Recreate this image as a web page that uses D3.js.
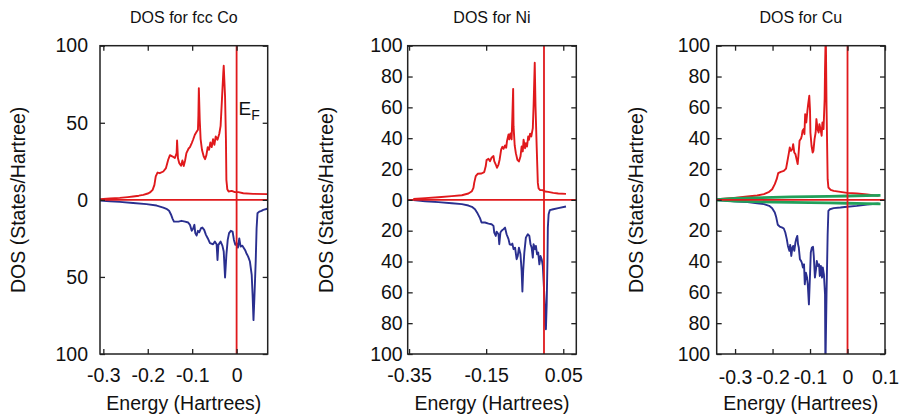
<!DOCTYPE html>
<html>
<head>
<meta charset="utf-8">
<script src="https://cdn.jsdelivr.net/npm/d3@7"></script>
<style>
  html, body { margin: 0; padding: 0; background: #fff; }
  svg { display: block; }
  text { font-family: "Liberation Sans", Arial, Helvetica, sans-serif; fill: #111; }
</style>
</head>
<body>
<script>
// ---------- DATA (Energy in Hartree, DOS in States/Hartree) ----------
const titles = ["DOS for fcc Co", "DOS for Ni", "DOS for Cu"];
const xTickValues = [[-0.3, -0.2, -0.1, 0], [-0.35, -0.15, 0.05], [-0.3, -0.2, -0.1, 0, 0.1]];
const xTickLabels = [["-0.3", "-0.2", "-0.1", "0"], ["-0.35", "-0.15", "0.05"], ["-0.3", "-0.2", "-0.1", "0", "0.1"]];
const xDomains = [[-0.3075, 0.07], [-0.3535, 0.0838], [-0.349, 0.1]];
const yTickValues = [[-100, -50, 0, 50, 100], [-100, -80, -60, -40, -20, 0, 20, 40, 60, 80, 100], [-100, -80, -60, -40, -20, 0, 20, 40, 60, 80, 100]];
const fermiEnergy = 0;

// fcc Co, spin up (drawn upward)
const coUp = [[-0.308,0.4],[-0.285,0.9],[-0.263,1.3],[-0.245,1.8],[-0.233,2.2],[-0.220,2.7],[-0.210,3.2],[-0.200,4.1],[-0.195,4.8],[-0.189,6.5],[-0.185,9.7],[-0.182,15.2],[-0.178,17.7],[-0.173,17.3],[-0.165,18.4],[-0.159,20.6],[-0.154,26.0],[-0.150,29.0],[-0.144,28.1],[-0.139,27.1],[-0.135,30.3],[-0.134,38.5],[-0.132,27],[-0.129,23.8],[-0.125,22.1],[-0.122,25.5],[-0.119,22],[-0.116,25.5],[-0.113,30.3],[-0.108,33.3],[-0.105,34.2],[-0.101,36.8],[-0.098,39.0],[-0.094,42.2],[-0.090,44.2],[-0.087,45.5],[-0.086,55],[-0.085,72.5],[-0.083,52],[-0.081,39.4],[-0.078,32.5],[-0.074,28.1],[-0.071,26.4],[-0.068,29],[-0.065,34.2],[-0.062,32.5],[-0.059,37.2],[-0.056,34.2],[-0.053,39.4],[-0.050,35.7],[-0.047,41.1],[-0.043,39],[-0.039,42.9],[-0.036,48],[-0.033,65],[-0.030,82.3],[-0.029,87],[-0.026,67],[-0.024,39],[-0.023,13],[-0.021,6.9],[-0.018,5.4],[-0.011,5.8],[-0.004,5],[0.004,5],[0.015,4.3],[0.037,3.9],[0.069,3.7]];
// fcc Co, spin down (drawn downward)
const coDn = [[-0.308,0.4],[-0.285,0.9],[-0.263,1.3],[-0.233,2.0],[-0.203,2.8],[-0.180,3.7],[-0.165,5.0],[-0.158,5.8],[-0.152,7.1],[-0.148,9.3],[-0.144,12.3],[-0.141,14.1],[-0.131,14.1],[-0.124,13.6],[-0.116,14.1],[-0.109,14.7],[-0.105,16.2],[-0.101,20.1],[-0.098,18.8],[-0.095,16.2],[-0.093,21.6],[-0.090,23.2],[-0.087,20.1],[-0.084,21],[-0.080,18.4],[-0.077,18],[-0.073,19.5],[-0.069,22.7],[-0.065,24.9],[-0.060,28.1],[-0.053,28.8],[-0.049,27.1],[-0.045,28.8],[-0.043,39],[-0.041,29.2],[-0.036,27.1],[-0.032,29.7],[-0.029,33.5],[-0.026,50.4],[-0.023,35.7],[-0.020,26],[-0.017,21.6],[-0.013,20.1],[-0.009,20.6],[-0.006,26],[-0.003,29.2],[0.000,28.1],[0.003,31],[0.006,25],[0.009,30.3],[0.013,29.7],[0.019,32.5],[0.022,34.6],[0.026,36.8],[0.030,40.0],[0.034,48.7],[0.036,61.7],[0.038,78],[0.040,64],[0.043,40],[0.045,18.4],[0.047,8.7],[0.051,7.6],[0.056,7.1],[0.060,6.5],[0.069,5.8]];

// Ni, spin up
const niUp = [[-0.339,0.6],[-0.308,1.1],[-0.274,1.7],[-0.239,2.4],[-0.213,3.0],[-0.196,4.1],[-0.187,5.6],[-0.183,7.8],[-0.181,11.0],[-0.177,15.4],[-0.172,16.9],[-0.162,17.1],[-0.155,18.0],[-0.151,21.9],[-0.149,25.8],[-0.144,26.6],[-0.140,25.1],[-0.136,27.3],[-0.131,28.4],[-0.129,25.1],[-0.125,22.9],[-0.122,20.8],[-0.118,22.9],[-0.115,26.2],[-0.111,32.7],[-0.108,34.4],[-0.105,33.1],[-0.101,35.3],[-0.098,33.8],[-0.096,38.1],[-0.092,42.4],[-0.090,39.2],[-0.087,43.1],[-0.084,39.2],[-0.082,54.3],[-0.080,72],[-0.079,47.8],[-0.076,35.3],[-0.073,30.3],[-0.069,26],[-0.065,24.9],[-0.061,28.1],[-0.058,34.6],[-0.055,31.4],[-0.053,39],[-0.049,33.5],[-0.047,36.8],[-0.044,34.6],[-0.041,41.1],[-0.039,39],[-0.036,42.9],[-0.033,41.1],[-0.029,46.5],[-0.027,60.8],[-0.024,89],[-0.022,60.8],[-0.019,34.8],[-0.016,11],[-0.014,7.4],[-0.010,6.3],[-0.004,6.3],[0.003,5.4],[0.011,5.2],[0.024,4.5],[0.037,4.1],[0.057,3.9]];
// Ni, spin down
const niDn = [[-0.339,0.2],[-0.308,0.9],[-0.274,1.5],[-0.239,2.2],[-0.213,2.8],[-0.196,3.7],[-0.187,4.5],[-0.179,6.1],[-0.172,8.9],[-0.166,11.9],[-0.162,14.7],[-0.153,14.7],[-0.144,15.4],[-0.136,15.8],[-0.131,16.9],[-0.129,21.2],[-0.125,23.4],[-0.123,20.6],[-0.118,22.3],[-0.116,28.8],[-0.113,21.2],[-0.110,20.1],[-0.105,19.0],[-0.101,18.0],[-0.097,22.3],[-0.092,25.5],[-0.089,28.8],[-0.085,29.2],[-0.082,28.4],[-0.079,32.0],[-0.075,31.0],[-0.071,38.5],[-0.068,36.4],[-0.065,31.0],[-0.061,35.3],[-0.058,46.1],[-0.056,59.5],[-0.054,46.1],[-0.051,34.2],[-0.047,24.5],[-0.042,22.3],[-0.038,23.4],[-0.035,28.8],[-0.032,31.0],[-0.029,37.5],[-0.027,28.8],[-0.023,32.0],[-0.021,29.9],[-0.018,35.3],[-0.015,34.2],[-0.012,41.8],[-0.009,36.4],[-0.006,38.5],[-0.003,42.9],[-0.001,52.6],[0.002,67.7],[0.003,80.7],[0.005,84],[0.007,67.7],[0.009,39.6],[0.010,18.0],[0.012,9.3],[0.015,6.7],[0.024,6.1],[0.037,5.4],[0.057,4.3]];

// Cu, spin up
const cuUp = [[-0.347,0.4],[-0.303,1.3],[-0.267,2.2],[-0.241,2.8],[-0.223,3.7],[-0.209,5.2],[-0.201,6.9],[-0.194,10.2],[-0.189,13.4],[-0.185,17.3],[-0.178,18.2],[-0.170,18.8],[-0.164,20.3],[-0.161,24.2],[-0.157,29.7],[-0.154,34.0],[-0.151,31.8],[-0.147,32.9],[-0.145,36.1],[-0.142,30.7],[-0.139,29.7],[-0.136,26.4],[-0.133,23.2],[-0.131,28.6],[-0.128,38.3],[-0.124,39.8],[-0.122,41.6],[-0.120,44.8],[-0.117,45.9],[-0.115,42.6],[-0.113,55.6],[-0.110,50.2],[-0.107,57.8],[-0.105,62.1],[-0.102,67.5],[-0.100,57.8],[-0.099,43.7],[-0.096,35.1],[-0.093,30.7],[-0.091,31.8],[-0.088,39.4],[-0.085,43.7],[-0.083,52.4],[-0.080,45.9],[-0.077,43.7],[-0.075,49.1],[-0.072,45.9],[-0.069,41.6],[-0.067,50.2],[-0.064,45.9],[-0.061,65.4],[-0.060,84.8],[-0.058,110],[-0.056,61.0],[-0.053,13.4],[-0.051,8.0],[-0.045,6.5],[-0.037,5.8],[-0.019,5.2],[-0.001,4.5],[0.025,4.1],[0.052,3.5],[0.083,2.6]];
// Cu, spin down
const cuDn = [[-0.347,0.2],[-0.303,0.9],[-0.267,1.5],[-0.241,2.2],[-0.223,2.8],[-0.209,3.9],[-0.201,5.4],[-0.194,8.2],[-0.190,11.5],[-0.186,16.2],[-0.181,17.3],[-0.174,18.0],[-0.170,18.6],[-0.166,21.2],[-0.162,25.5],[-0.159,29.9],[-0.155,33.1],[-0.153,29.2],[-0.150,36.4],[-0.147,30.9],[-0.145,29.9],[-0.142,33.1],[-0.139,27.7],[-0.137,25.5],[-0.134,23.4],[-0.132,28.8],[-0.130,30.9],[-0.127,38.5],[-0.124,39.6],[-0.122,40.7],[-0.119,43.9],[-0.116,41.8],[-0.114,54.8],[-0.111,47.2],[-0.108,50.4],[-0.106,54.8],[-0.103,67.8],[-0.100,48.3],[-0.098,34.2],[-0.095,30.9],[-0.092,30.5],[-0.090,36.4],[-0.087,50.4],[-0.084,45.0],[-0.082,39.6],[-0.079,42.9],[-0.076,41.8],[-0.074,49.4],[-0.071,42.9],[-0.068,50.4],[-0.066,43.9],[-0.063,48.3],[-0.060,61.3],[-0.059,110],[-0.056,61.3],[-0.053,22.3],[-0.051,7.1],[-0.047,6.1],[-0.037,5.4],[-0.019,5.0],[-0.001,4.5],[0.025,3.9],[0.052,3.0],[0.083,2.4]];
// Cu, sp-like contributions (green)
const cuSpUp = [[-0.349,0.1],[-0.33,0.5],[-0.30,0.9],[-0.25,1.3],[-0.20,1.6],[-0.15,1.9],[-0.10,2.1],[-0.05,2.3],[0.00,2.5],[0.05,2.7],[0.088,2.9]];
const cuSpDn = [[-0.349,0.1],[-0.33,0.4],[-0.30,0.8],[-0.25,1.1],[-0.20,1.4],[-0.15,1.6],[-0.10,1.8],[-0.05,2.0],[0.00,2.2],[0.05,2.4],[0.088,2.6]];

const upSeries = [coUp, niUp, cuUp];
const dnSeries = [coDn, niDn, cuDn];
const greenUp = [null, null, cuSpUp];
const greenDn = [null, null, cuSpDn];

// ---------- LAYOUT ----------
const W = 903, H = 420;
const lefts = [100, 407.7, 716.7];
const rights = [267.7, 576.3, 885];
const plotTop = 45.7, plotBottom = 354;
const yPads = [12, 5, 6.5];
const xPads = [14.5, 14.5, 16];
const yLabelX = [25, 333, 643];
const RED = "#e0191c", BLUE = "#2a2f8f", GREEN = "#22a05a", FRAME = "#222";

const svg = d3.select("body").append("svg").attr("width", W).attr("height", H);

for (let i = 0; i < 3; i++) {
  const x = d3.scaleLinear().domain(xDomains[i]).range([lefts[i], rights[i]]);
  const y = d3.scaleLinear().domain([-100, 100]).range([plotBottom, plotTop]);
  const g = svg.append("g");

  const clipId = "clip" + i;
  svg.append("clipPath").attr("id", clipId).append("rect")
    .attr("x", lefts[i]).attr("y", plotTop).attr("width", rights[i] - lefts[i]).attr("height", plotBottom - plotTop);

  const plot = g.append("g").attr("clip-path", `url(#${clipId})`);
  const lineUp = d3.line().x(d => x(d[0])).y(d => y(d[1]));
  const lineDn = d3.line().x(d => x(d[0])).y(d => y(-d[1]));

  plot.append("path").datum(dnSeries[i]).attr("d", lineDn)
    .attr("fill", "none").attr("stroke", BLUE).attr("stroke-width", 1.9).attr("stroke-linejoin", "round");
  plot.append("path").datum(upSeries[i]).attr("d", lineUp)
    .attr("fill", "none").attr("stroke", RED).attr("stroke-width", 1.9).attr("stroke-linejoin", "round");
  if (greenUp[i]) {
    plot.append("path").datum(greenUp[i]).attr("d", lineUp)
      .attr("fill", "none").attr("stroke", GREEN).attr("stroke-width", 2.8);
    plot.append("path").datum(greenDn[i]).attr("d", lineDn)
      .attr("fill", "none").attr("stroke", GREEN).attr("stroke-width", 2.8);
  }
  // zero line and Fermi level
  plot.append("line").attr("x1", x(xDomains[i][0])).attr("x2", x(xDomains[i][1]))
    .attr("y1", y(0)).attr("y2", y(0)).attr("stroke", RED).attr("stroke-width", 1.8);
  plot.append("line").attr("x1", x(fermiEnergy)).attr("x2", x(fermiEnergy))
    .attr("y1", y(-100)).attr("y2", y(100)).attr("stroke", RED).attr("stroke-width", 1.8);

  // axes (ticks pointing inward, mirrored)
  const styleAxis = sel => {
    sel.select(".domain").remove();
    sel.selectAll(".tick line").attr("stroke", FRAME).attr("stroke-width", 1.3);
    sel.selectAll(".tick text").attr("fill", "#111").style("font-size", "19.5px")
      .style("font-family", '"Liberation Sans", Arial, Helvetica, sans-serif');
  };
  g.append("g").attr("transform", `translate(${lefts[i]},0)`)
    .call(d3.axisLeft(y).tickValues(yTickValues[i]).tickFormat(d => Math.abs(d))
      .tickSizeInner(-5).tickSizeOuter(0).tickPadding(yPads[i])).call(styleAxis);
  g.append("g").attr("transform", `translate(${rights[i]},0)`)
    .call(d3.axisRight(y).tickValues(yTickValues[i]).tickFormat("")
      .tickSizeInner(-5).tickSizeOuter(0)).call(styleAxis);
  g.append("g").attr("transform", `translate(0,${plotBottom})`)
    .call(d3.axisBottom(x).tickValues(xTickValues[i]).tickFormat((d, k) => xTickLabels[i][k])
      .tickSizeInner(-5).tickSizeOuter(0).tickPadding(xPads[i])).call(styleAxis);
  g.append("g").attr("transform", `translate(0,${plotTop})`)
    .call(d3.axisTop(x).tickValues(xTickValues[i]).tickFormat("")
      .tickSizeInner(-5).tickSizeOuter(0)).call(styleAxis);

  // frame
  g.append("rect").attr("x", lefts[i]).attr("y", plotTop)
    .attr("width", rights[i] - lefts[i]).attr("height", plotBottom - plotTop)
    .attr("fill", "none").attr("stroke", FRAME).attr("stroke-width", 1.5);

  const cx = (lefts[i] + rights[i]) / 2;
  g.append("text").attr("x", cx).attr("y", 23).attr("text-anchor", "middle")
    .style("font-size", "16px").text(titles[i]);
  g.append("text").attr("x", cx).attr("y", 410).attr("text-anchor", "middle")
    .style("font-size", "19.5px").text("Energy (Hartrees)");
  g.append("text").attr("transform", `translate(${yLabelX[i]},${(plotTop + plotBottom) / 2}) rotate(-90)`)
    .attr("text-anchor", "middle").style("font-size", "19.5px").text("DOS (States/Hartree)");

  if (i === 0) {
    const t = g.append("text").attr("x", x(fermiEnergy) + 2).attr("y", 115).style("font-size", "19px");
    t.append("tspan").text("E");
    t.append("tspan").attr("dy", 5).style("font-size", "14px").text("F");
  }
}
</script>
</body>
</html>
